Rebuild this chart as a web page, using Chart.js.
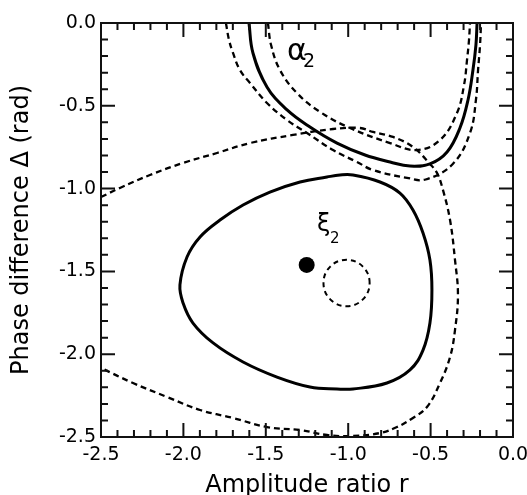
<!DOCTYPE html>
<html>
<head>
<meta charset="utf-8">
<script src="https://cdn.jsdelivr.net/npm/chart.js@4.4.1/dist/chart.umd.min.js"></script>
<style>
  html, body { margin: 0; padding: 0; background: #fff; }
  canvas { display: block; }
</style>
</head>
<body>
<canvas id="chart" width="527" height="495"></canvas>
<script>
const FONT = "'DejaVu Sans', sans-serif";

// axis ticks (major every 0.5, minor every 0.1)
const xTickValues = [-2.5, -2.0, -1.5, -1.0, -0.5, 0.0];
const yTickValues = [-2.5, -2.0, -1.5, -1.0, -0.5, 0.0];
const minorTickCount = 25;

// solid contour around xi_2 (closed, last = first)
const xiContour = [
  [-2.021, -1.582], [-2.002, -1.691], [-1.942, -1.812], [-1.820, -1.932],
  [-1.638, -2.047], [-1.432, -2.138], [-1.232, -2.198], [-1.068, -2.210],
  [-0.971, -2.210], [-0.765, -2.174], [-0.625, -2.095], [-0.546, -1.975],
  [-0.504, -1.812], [-0.492, -1.612], [-0.504, -1.431], [-0.546, -1.268],
  [-0.607, -1.129], [-0.686, -1.027], [-0.807, -0.960], [-0.971, -0.918],
  [-1.050, -0.918], [-1.129, -0.930], [-1.292, -0.960], [-1.475, -1.021],
  [-1.638, -1.099], [-1.778, -1.190], [-1.899, -1.292], [-1.978, -1.413],
  [-2.021, -1.582]
];

// xi_2 point
const xiPoint = [[-1.252, -1.461]];

// small dashed circle (closed)
const smallCircle = [
  [-0.870, -1.570], [-0.911, -1.471], [-1.010, -1.430], [-1.109, -1.471],
  [-1.150, -1.570], [-1.109, -1.669], [-1.010, -1.710], [-0.911, -1.669],
  [-0.870, -1.570]
];

// large dashed curve, enters at the left edge top and leaves at the left edge bottom
const bigDashed = [
  [-2.500, -1.051], [-2.385, -0.996], [-2.203, -0.918], [-2.002, -0.845],
  [-1.796, -0.785], [-1.596, -0.725], [-1.335, -0.676], [-1.092, -0.640],
  [-0.928, -0.634], [-0.850, -0.658], [-0.728, -0.688], [-0.607, -0.749],
  [-0.504, -0.851], [-0.461, -0.906], [-0.425, -1.008], [-0.382, -1.190],
  [-0.352, -1.431], [-0.334, -1.643], [-0.352, -1.854], [-0.382, -2.017],
  [-0.443, -2.174], [-0.522, -2.319], [-0.607, -2.385], [-0.704, -2.440],
  [-0.807, -2.476], [-0.971, -2.494], [-1.129, -2.488], [-1.292, -2.458],
  [-1.493, -2.440], [-1.699, -2.385], [-1.899, -2.337], [-2.100, -2.258],
  [-2.306, -2.174], [-2.500, -2.083]
];

// alpha_2 curves
const alphaSolid = [
  [-1.602, 0.000], [-1.578, -0.181], [-1.493, -0.386], [-1.371, -0.525],
  [-1.232, -0.628], [-1.068, -0.725], [-0.898, -0.797], [-0.746, -0.839],
  [-0.625, -0.864], [-0.504, -0.851], [-0.400, -0.779], [-0.322, -0.634],
  [-0.273, -0.465], [-0.243, -0.284], [-0.225, -0.133], [-0.218, 0.000]
];
const alphaInner = [
  [-1.487, 0.000], [-1.468, -0.133], [-1.414, -0.284], [-1.311, -0.423],
  [-1.171, -0.537], [-0.989, -0.634], [-0.746, -0.725], [-0.583, -0.767],
  [-0.443, -0.707], [-0.340, -0.543], [-0.297, -0.374], [-0.279, -0.223],
  [-0.267, -0.103], [-0.261, 0.000]
];
const alphaOuter = [
  [-1.742, 0.000], [-1.723, -0.103], [-1.699, -0.181], [-1.657, -0.284],
  [-1.596, -0.362], [-1.493, -0.483], [-1.371, -0.586], [-1.250, -0.664],
  [-1.092, -0.767], [-0.947, -0.839], [-0.850, -0.888], [-0.643, -0.935],
  [-0.530, -0.945], [-0.364, -0.850], [-0.261, -0.664], [-0.225, -0.465],
  [-0.212, -0.284], [-0.200, -0.133], [-0.194, 0.000]
];

// curve labels
const curveLabels = [
  { base: '\u03B1', sub: '2', x: -1.371, y: -0.223, size: 30, subSize: 19, dx: 16, dy: 7 },
  { base: '\u03BE', sub: '2', x: -1.189, y: -1.256, size: 24, subSize: 15, dx: 13, dy: 12 }
];

const toXY = arr => arr.map(([x, y]) => ({ x, y }));

function lineSet(pts, dash, width) {
  return {
    data: pts,
    showLine: true,
    borderColor: '#000',
    borderWidth: width,
    borderDash: dash,
    pointRadius: 0,
    tension: 0.4,
    fill: false,
    clip: 0
  };
}

// closed curves: wrap one point on each side so the spline is smooth at the join,
// the two extra segments are made invisible
function closedSet(arr, dash, width) {
  const pts = toXY([arr[arr.length - 2], ...arr, arr[1]]);
  const last = pts.length - 2;
  const ds = lineSet(pts, dash, width);
  ds.segment = {
    borderColor: ctx => (ctx.p0DataIndex === 0 || ctx.p0DataIndex === last) ? 'rgba(0,0,0,0)' : undefined
  };
  return ds;
}

const DASH = [6, 4];

// frame with inward ticks on all four sides, plus the curve labels
const framePlugin = {
  id: 'frame',
  afterDatasetsDraw(chart) {
    const { ctx, chartArea: a, scales: { x, y } } = chart;
    ctx.save();
    ctx.strokeStyle = '#111';
    ctx.lineWidth = 2;
    ctx.beginPath();
    for (let i = 0; i <= minorTickCount; i++) {
      const v = -2.5 + i * 0.1;
      const len = i % 5 === 0 ? 14 : 7;
      const px = x.getPixelForValue(v);
      const py = y.getPixelForValue(v);
      ctx.moveTo(px, a.bottom); ctx.lineTo(px, a.bottom - len);
      ctx.moveTo(px, a.top); ctx.lineTo(px, a.top + len);
      ctx.moveTo(a.left, py); ctx.lineTo(a.left + len, py);
      ctx.moveTo(a.right, py); ctx.lineTo(a.right - len, py);
    }
    ctx.stroke();
    ctx.strokeRect(a.left, a.top, a.right - a.left, a.bottom - a.top);

    ctx.fillStyle = '#000';
    ctx.textAlign = 'left';
    ctx.textBaseline = 'alphabetic';
    curveLabels.forEach(l => {
      const px = x.getPixelForValue(l.x);
      const py = y.getPixelForValue(l.y);
      ctx.font = l.size + 'px ' + FONT;
      ctx.fillText(l.base, px, py);
      ctx.font = l.subSize + 'px ' + FONT;
      ctx.fillText(l.sub, px + l.dx, py + l.dy);
    });
    ctx.restore();
  }
};

function axis(ticks, title, isX) {
  return {
    type: 'linear',
    min: -2.5,
    max: 0,
    afterBuildTicks: s => { s.ticks = ticks.map(value => ({ value })); },
    afterFit: s => {
      if (isX) s.height = 58; else s.width = 101;
      s.paddingLeft = 0; s.paddingRight = 0; s.paddingTop = 0; s.paddingBottom = 0;
    },
    grid: { display: false, drawTicks: false },
    border: { display: false },
    ticks: {
      color: '#000',
      font: { family: FONT, size: 19 },
      padding: isX ? 7 : 5,
      maxRotation: 0,
      autoSkip: false,
      callback: v => Number(v).toFixed(1)
    },
    title: {
      display: true,
      text: title,
      color: '#000',
      font: { family: FONT, size: 24, lineHeight: 1 },
      padding: isX ? { top: 0, bottom: -3 } : { top: 10, bottom: 0 }
    }
  };
}

new Chart(document.getElementById('chart'), {
  type: 'line',
  data: {
    datasets: [
      lineSet(toXY(bigDashed), DASH, 2.3),
      lineSet(toXY(alphaInner), DASH, 2.3),
      lineSet(toXY(alphaOuter), DASH, 2.3),
      lineSet(toXY(alphaSolid), [], 3),
      closedSet(xiContour, [], 3),
      closedSet(smallCircle, [5, 4], 2),
      {
        data: toXY(xiPoint),
        showLine: false,
        pointRadius: 8,
        pointBackgroundColor: '#000',
        pointBorderWidth: 0,
        clip: 0
      }
    ]
  },
  options: {
    responsive: false,
    animation: false,
    events: [],
    layout: { padding: { left: 0, right: 14, top: 23, bottom: 0 } },
    plugins: { legend: { display: false }, tooltip: { enabled: false } },
    scales: {
      x: axis(xTickValues, 'Amplitude ratio r', true),
      y: axis(yTickValues, 'Phase difference \u0394 (rad)', false)
    }
  },
  plugins: [framePlugin]
});
</script>
</body>
</html>
